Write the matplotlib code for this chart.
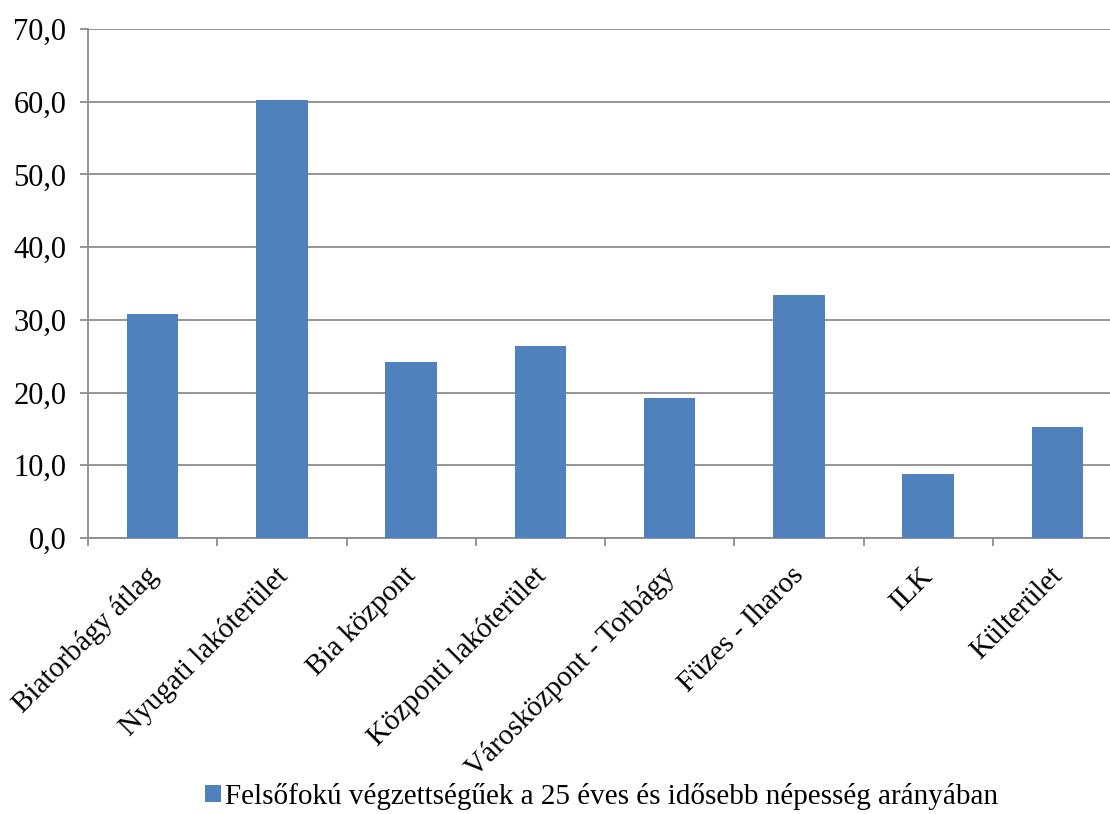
import matplotlib.pyplot as plt
import matplotlib.transforms as mtransforms
import numpy as np
from matplotlib.ticker import FuncFormatter, FixedLocator

categories = ["Biatorbágy átlag", "Nyugati lakóterület", "Bia központ",
              "Központi lakóterület", "Városközpont - Torbágy", "Füzes - Iharos",
              "ILK", "Külterület"]
values = [30.8, 60.3, 24.2, 26.4, 19.3, 33.4, 8.8, 15.3]
series_name = "Felsőfokú végzettségűek a 25 éves és idősebb népesség arányában"

plt.rcParams['font.family'] = ['Liberation Serif', 'DejaVu Serif']

fig = plt.figure(figsize=(11.1, 8.14), dpi=100)
# plot area runs slightly past the right edge of the picture, like the reference
ax = fig.add_axes([88 / 1110, 1 - 538 / 814, 1034 / 1110, (538 - 29) / 814])

x = np.arange(len(categories))
ax.bar(x, values, width=0.40, color='#4f81bd', zorder=3, label=series_name)

ax.set_xlim(-0.5, len(categories) - 0.5)
ax.set_ylim(0, 70)
ax.set_yticks(np.arange(0, 71, 10))
ax.yaxis.set_major_formatter(FuncFormatter(lambda v, p: f"{v:.1f}".replace('.', ',')))
ax.grid(axis='y', color='#8c8c8c', linewidth=1.3, zorder=0)

# category boundaries as ticks, labels at centres
ax.xaxis.set_major_locator(FixedLocator(np.arange(-0.5, len(categories), 1.0)))
ax.xaxis.set_major_formatter(FuncFormatter(lambda v, p: ""))
ax.xaxis.set_minor_locator(FixedLocator(x))
ax.set_xticklabels(categories, minor=True, rotation=45, ha='right', rotation_mode='anchor',
                   fontsize=21)
ax.tick_params(axis='x', which='minor', length=0, pad=14)
ax.tick_params(axis='x', which='major', length=6, width=1.3, color='#8c8c8c')
ax.tick_params(axis='y', length=6, width=1.3, color='#8c8c8c', labelsize=22, pad=9.5)

# nudge the rotated labels a little left and down
shift = mtransforms.ScaledTranslation(-8 / 100, -5 / 100, fig.dpi_scale_trans)
for lbl in ax.get_xticklabels(minor=True):
    lbl.set_transform(lbl.get_transform() + shift)

for s in ['top', 'right']:
    ax.spines[s].set_visible(False)
for s in ['left', 'bottom']:
    ax.spines[s].set_color('#8c8c8c')
    ax.spines[s].set_linewidth(1.3)

fig.legend(loc='lower center', bbox_to_anchor=(0.542, -0.027), frameon=False, fontsize=21,
           handlelength=0.55, handleheight=0.55, handletextpad=0.15)

fig.savefig("out.png", dpi=100)
